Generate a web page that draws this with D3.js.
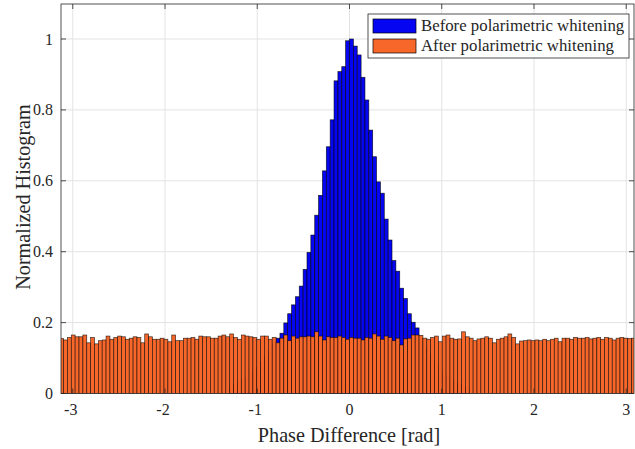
<!DOCTYPE html>
<html><head><meta charset="utf-8">
<script src="https://cdn.jsdelivr.net/npm/d3@7"></script>
<style>body{margin:0;background:#fff} svg text{font-family:'Liberation Serif','Times New Roman','DejaVu Serif',serif;fill:#262626}</style>
</head><body><svg id="c" width="635" height="449"></svg>
<script>
// ---- data ----
const nBins = 150;                 // bins spanning [-pi, pi]
const xTicks = [-3, -2, -1, 0, 1, 2, 3];
const yTicks = [0, 0.2, 0.4, 0.6, 0.8, 1];
const yTickLabels = ["0", "0.2", "0.4", "0.6", "0.8", "1"];
const seriesNames = ["Before polarimetric whitening", "After polarimetric whitening"];
const blueFirstBin = 44;
const blueValues = [
  0.02,0.025,0.03,0.04,0.045,0.055,0.065,0.075,0.09,0.105,
  0.12,0.14,0.156,0.17,0.199,0.225,0.25,0.273,0.303,0.35,
  0.398,0.447,0.503,0.559,0.628,0.696,0.772,0.882,0.908,0.922,
  0.995,1.0,0.98,0.955,0.892,0.828,0.743,0.668,0.597,0.565,
  0.492,0.433,0.375,0.345,0.297,0.268,0.225,0.201,0.185,0.15,
  0.13,0.11,0.095,0.08,0.065,0.055,0.045,0.035,0.03,0.025,
  0.02,0.015
];
const orangeValues = [
  0.155,0.151,0.158,0.165,0.160,0.160,0.165,0.143,0.158,0.140,
  0.149,0.151,0.162,0.153,0.158,0.162,0.160,0.153,0.156,0.160,
  0.158,0.143,0.168,0.160,0.153,0.153,0.156,0.153,0.146,0.165,
  0.149,0.149,0.156,0.156,0.158,0.153,0.162,0.160,0.160,0.156,
  0.156,0.162,0.165,0.160,0.168,0.158,0.153,0.165,0.162,0.160,
  0.158,0.153,0.162,0.162,0.153,0.158,0.143,0.156,0.165,0.149,
  0.162,0.156,0.160,0.160,0.162,0.160,0.174,0.162,0.151,0.160,
  0.158,0.158,0.162,0.158,0.153,0.158,0.156,0.156,0.151,0.158,
  0.156,0.168,0.162,0.153,0.162,0.158,0.149,0.156,0.137,0.154,
  0.156,0.165,0.165,0.164,0.156,0.153,0.158,0.162,0.146,0.162,
  0.165,0.156,0.153,0.154,0.174,0.160,0.156,0.149,0.154,0.156,
  0.160,0.156,0.143,0.153,0.156,0.160,0.168,0.158,0.140,0.148,
  0.149,0.151,0.149,0.151,0.149,0.153,0.149,0.153,0.156,0.146,
  0.156,0.156,0.153,0.158,0.156,0.156,0.158,0.154,0.156,0.158,
  0.153,0.158,0.156,0.151,0.156,0.158,0.156,0.155,0.156,0.155
];

// ---- layout ----
const svg = d3.select("#c");
const L = 61, R = 634, T = 4, B = 393.5;
const x = d3.scaleLinear().domain([-Math.PI, Math.PI]).range([59.7, 639.3]);
const y = d3.scaleLinear().domain([0, 1.1]).range([B, B - 1.1 * 354.5]);
const bw = 2 * Math.PI / nBins;
const edge = k => -Math.PI + k * bw;

svg.append("defs").append("clipPath").attr("id", "clip")
  .append("rect").attr("x", L).attr("y", T).attr("width", R - L).attr("height", B - T);

// grid
const g = svg.append("g");
g.selectAll(".gx").data(xTicks).join("line")
  .attr("x1", d => x(d)).attr("x2", d => x(d)).attr("y1", T).attr("y2", B)
  .attr("stroke", "#e3e3e3").attr("stroke-width", 1);
g.selectAll(".gy").data(yTicks.slice(1)).join("line")
  .attr("x1", L).attr("x2", R).attr("y1", d => y(d)).attr("y2", d => y(d))
  .attr("stroke", "#e3e3e3").attr("stroke-width", 1);

const plot = svg.append("g").attr("clip-path", "url(#clip)");
plot.selectAll(".b").data(blueValues).join("rect")
  .attr("x", (d, i) => x(edge(blueFirstBin + i)))
  .attr("width", (d, i) => x(edge(blueFirstBin + i + 1)) - x(edge(blueFirstBin + i)))
  .attr("y", d => y(d)).attr("height", d => y(0) - y(d))
  .attr("fill", "#0505f2").attr("stroke", "#000").attr("stroke-width", 0.7).attr("stroke-opacity", 0.8);
plot.selectAll(".o").data(orangeValues).join("rect")
  .attr("x", (d, i) => x(edge(i)))
  .attr("width", (d, i) => x(edge(i + 1)) - x(edge(i)))
  .attr("y", d => y(d)).attr("height", d => y(0) - y(d))
  .attr("fill", "#f8672a").attr("stroke", "#000").attr("stroke-width", 0.7).attr("stroke-opacity", 0.75);

// axes box
const ax = svg.append("g").attr("stroke", "#262626").attr("stroke-width", 0.8).attr("fill", "none");
ax.append("rect").attr("x", L).attr("y", T).attr("width", R - L).attr("height", B - T);
const tl = 5;
xTicks.forEach(d => {
  ax.append("line").attr("x1", x(d)).attr("x2", x(d)).attr("y1", B).attr("y2", B - tl);
  ax.append("line").attr("x1", x(d)).attr("x2", x(d)).attr("y1", T).attr("y2", T + tl);
});
yTicks.forEach(d => {
  ax.append("line").attr("x1", L).attr("x2", L + tl).attr("y1", y(d)).attr("y2", y(d));
  ax.append("line").attr("x1", R).attr("x2", R - tl).attr("y1", y(d)).attr("y2", y(d));
});

// tick labels
svg.selectAll(".xl").data(xTicks).join("text")
  .attr("x", d => x(d)).attr("y", 415).attr("text-anchor", "middle")
  .attr("font-size", 16).text(d => d < 0 ? "-" + Math.abs(d) : String(d))
  .attr("dx", d => d < 0 ? -2 : 0);
svg.selectAll(".yl").data(yTicks).join("text")
  .attr("x", 53).attr("y", d => y(d) + 5.5).attr("text-anchor", "end")
  .attr("font-size", 16).text((d, i) => yTickLabels[i]);

// axis titles
svg.append("text").attr("x", 349).attr("y", 442).attr("text-anchor", "middle")
  .attr("font-size", 20.2).text("Phase Difference [rad]");
svg.append("text").attr("transform", "translate(30,197) rotate(-90)").attr("text-anchor", "middle")
  .attr("font-size", 20.2).text("Normalized Histogram");

// legend
const lg = svg.append("g");
lg.append("rect").attr("x", 368).attr("y", 14).attr("width", 261).attr("height", 44)
  .attr("fill", "#fff").attr("stroke", "#262626").attr("stroke-width", 0.8);
const colors = ["#0505f2", "#f8672a"];
seriesNames.forEach((n, i) => {
  lg.append("rect").attr("x", 373).attr("y", 19 + i * 20).attr("width", 43).attr("height", 14)
    .attr("fill", colors[i]).attr("stroke", "#000").attr("stroke-width", 0.7);
  lg.append("text").attr("x", 421).attr("y", 31 + i * 20).attr("font-size", 16.8).text(n);
});
</script></body></html>
